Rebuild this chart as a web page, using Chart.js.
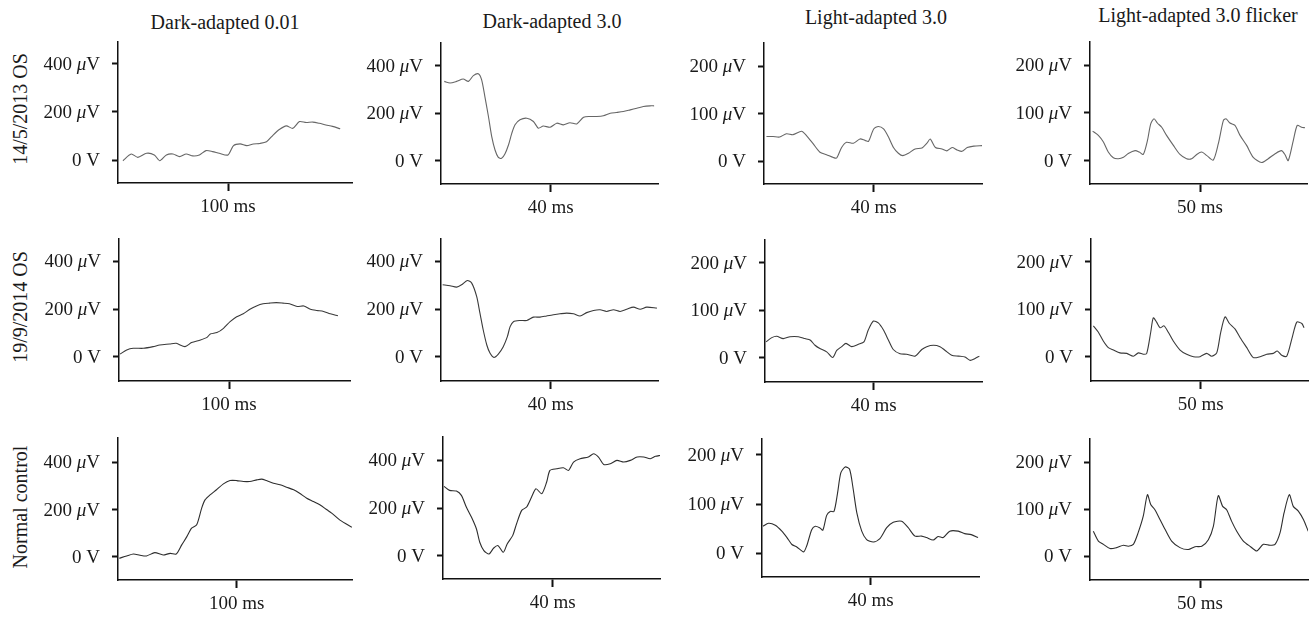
<!DOCTYPE html>
<html lang="en">
<head>
<meta charset="UTF-8">
<title>ERG recordings</title>
<script src="https://cdn.jsdelivr.net/npm/chart.js"></script>
<style>
    body {
        margin: 0;
        background: #fff;
        font-family: "Liberation Serif", "DejaVu Serif", serif;
        color: #1a1a1a;
    }
    #page {
        position: relative;
        width: 1310px;
        height: 617px;
        overflow: hidden;
    }
    #page canvas {
        position: absolute;
    }
    .title {
        position: absolute;
        font-size: 20px;
        white-space: nowrap;
        transform: translate(-50%, -50%);
    }
    .rowlab {
        position: absolute;
        font-size: 20px;
        white-space: nowrap;
        transform: translate(-50%, -50%) rotate(-90deg);
    }
</style>
</head>
<body>
<div id="page"></div>
<script>
// labels
const columnTitles = ['Dark-adapted 0.01', 'Dark-adapted 3.0', 'Light-adapted 3.0', 'Light-adapted 3.0 flicker'];
const rowLabels = ['14/5/2013 OS', '19/9/2014 OS', 'Normal control'];
const tickTimes = [100, 40, 40, 50];     // ms, single x tick per column
const fullScale = [400, 400, 200, 200];  // µV, top y tick per column

// traces: time (ms) / amplitude (µV)
// row 1 - 14/5/2013 OS
const r1c1T = [4.5, 12, 18, 26, 33, 38, 44, 50, 56, 62, 68, 74, 80, 86, 92, 100, 105, 111, 117, 123, 129, 135, 141, 147, 153, 159, 165, 171, 177, 183, 189, 195, 202];
const r1c1V = [-3, 25, 11, 28, 21, -3, 21, 25, 14, 25, 17, 21, 39, 35, 28, 21, 60, 67, 60, 67, 69, 76, 104, 128, 142, 132, 160, 156, 158, 153, 146, 140, 130];
const r1c2T = [1.2, 3.3, 5.7, 8.1, 10, 11.8, 13.6, 14.8, 16, 17.3, 18.5, 19.7, 20.9, 22.1, 23.3, 24.6, 25.8, 27, 28.8, 31.3, 33.7, 35.5, 37.3, 39.8, 42.2, 44.6, 47, 49.5, 52, 54.4, 56.8, 59.2, 61.7, 64, 66.5, 69, 71.4, 73.8, 76.2, 77.7];
const r1c2V = [334, 327, 334, 344, 334, 358, 366, 341, 270, 186, 101, 45, 14, 10, 28, 66, 115, 151, 172, 179, 165, 137, 146, 141, 158, 151, 160, 155, 183, 186, 186, 189, 200, 203, 207, 214, 221, 228, 231, 231];
const r1c3T = [0.9, 3.3, 5.7, 8.2, 10.6, 13.7, 15.5, 17.9, 20.4, 22.8, 25.3, 26.5, 28.3, 30.1, 32.6, 35, 36.8, 38.1, 40, 41.7, 43.6, 45.4, 47.2, 49, 50.6, 52.7, 55.1, 57.6, 59.4, 60.6, 62.5, 64.9, 66.7, 68.6, 70.4, 72.2, 74.1, 76.5, 79.5];
const r1c3V = [52, 52, 51, 58, 56, 63, 54, 37, 19, 14, 8, 7, 29, 40, 38, 47, 44, 42, 68, 73, 68, 51, 29, 17, 12, 17, 26, 28, 38, 47, 29, 26, 22, 29, 24, 21, 29, 32, 33];
const r1c4T = [1.2, 3.8, 6.1, 8.3, 10.6, 12.9, 15.2, 17.4, 20.5, 22.4, 24.2, 26.1, 27.6, 29.1, 30.6, 32.6, 34.8, 37.9, 40.9, 43.9, 46.2, 48.5, 50.8, 53, 56, 58.3, 60.6, 61.8, 63.6, 65.9, 68.2, 71.2, 74.2, 78, 81, 84, 87, 88.6, 90.1, 92.4, 94.2, 96.2, 97.7];
const r1c4V = [62, 53, 39, 18, 6, 4, 7, 15, 21, 18, 13, 42, 77, 88, 79, 70, 53, 32, 13, 4, 4, 13, 18, 11, 1, 35, 84, 88, 79, 74, 53, 32, 7, -4, 4, 14, 21, 13, 0, 42, 74, 70, 69];
// row 2 - 19/9/2014 OS
const r2c1T = [1, 7, 13, 22, 31, 37, 46, 52, 60, 66, 74, 80, 83, 89, 95, 101, 107, 113, 119, 125, 131, 137, 143, 149, 155, 162, 168, 174, 180, 186, 192, 199];
const r2c1V = [11, 28, 35, 35, 42, 49, 53, 56, 42, 59, 70, 81, 95, 101, 119, 147, 168, 180, 199, 213, 222, 225, 227, 225, 222, 211, 213, 199, 194, 190, 180, 172];
const r2c2T = [0.6, 3.3, 5.7, 7.5, 9.6, 11.2, 13, 14.2, 15.4, 16.7, 17.9, 19.3, 20.9, 22.7, 24.2, 25.2, 26.4, 28.8, 31.3, 33.7, 36.1, 38.5, 41, 43.4, 45.8, 48.3, 50.7, 53.1, 55.6, 58, 60.4, 62.9, 65.3, 67.7, 70.2, 72.6, 75, 78.7];
const r2c2V = [302, 298, 292, 302, 320, 309, 253, 183, 112, 49, 14, -3, 11, 42, 84, 126, 147, 152, 152, 166, 166, 171, 176, 180, 183, 180, 171, 185, 194, 197, 190, 197, 190, 199, 208, 199, 208, 204];
const r2c3T = [0.4, 2.5, 4.3, 6.7, 9.2, 12.3, 14.7, 16.6, 18.4, 20.2, 22.7, 24.9, 26.4, 28.2, 29.8, 31.9, 34.4, 36.4, 38, 39.9, 41.7, 43.6, 45.4, 47.2, 49.7, 52.1, 55.2, 57.7, 59.5, 62, 64.4, 66.3, 68.7, 71.2, 73.6, 75.5, 77.3, 78.9];
const r2c3V = [33, 42, 45, 40, 44, 44, 40, 37, 26, 19, 12, 0, 15, 23, 30, 23, 28, 33, 58, 77, 73, 58, 37, 17, 8, 7, 3, 17, 23, 26, 23, 15, 5, 3, 1, -6, -2, 3];
const r2c4T = [1.1, 3.3, 5.6, 7.9, 10.2, 13.2, 16.3, 19.3, 21.6, 23.9, 25.4, 27.2, 28.4, 29.9, 31.5, 33.3, 35.3, 37.5, 40.6, 43.6, 46.7, 49.7, 52.7, 55, 57.3, 59.1, 61.1, 63.1, 65.7, 68, 71, 74, 77.1, 80.1, 83.1, 84.9, 86.9, 89.2, 91.5, 93.8, 96.1, 97.1];
const r2c4V = [65, 52, 33, 19, 14, 8, 7, 1, 8, 5, 7, 51, 82, 73, 61, 65, 51, 33, 14, 5, 0, 0, 7, 1, 8, 51, 84, 70, 58, 40, 19, -2, 0, 5, 7, 12, 3, 1, 37, 73, 70, 61];
// row 3 - normal control
const r3c1T = [1, 7.3, 13, 18.5, 24, 31, 38, 44, 49, 53.7, 58, 62, 66.3, 70.5, 73.3, 77.5, 83, 88.8, 94.4, 100, 105.6, 111, 117, 121, 125, 131, 136.5, 142, 148, 153, 159, 164.6, 170, 176, 180, 187, 197];
const r3c1V = [-7, 3, 11, 6, 3, 17, 7, 14, 11, 50, 85, 121, 135, 206, 241, 262, 284, 309, 323, 323, 319, 319, 326, 329, 323, 312, 305, 295, 284, 269, 248, 234, 220, 199, 185, 155, 125];
const r3c2T = [0.4, 2.4, 4.9, 6.7, 8.5, 10.4, 12.2, 13.4, 14.9, 16.8, 18.5, 20.1, 22, 23.4, 25.4, 26.8, 28.7, 30.5, 32.3, 33.9, 36, 37.8, 39, 41.5, 43.9, 45.8, 47.6, 50, 53, 54.9, 56.7, 58.6, 61, 63.4, 65.9, 68.3, 70.8, 73.2, 75.6, 77.5, 79.3];
const r3c2V = [291, 274, 271, 253, 204, 161, 112, 56, 21, 7, 32, 42, 14, 49, 84, 133, 190, 204, 246, 281, 260, 309, 358, 365, 369, 358, 393, 407, 414, 428, 414, 383, 386, 400, 393, 400, 414, 414, 407, 417, 421];
const r3c3T = [0.4, 2.4, 4.9, 7.3, 9.2, 11, 12.8, 15.3, 16.5, 18.3, 19.6, 21.2, 22.4, 23.8, 25.1, 26.5, 27.8, 29, 30.6, 32.2, 33.4, 34.9, 36.7, 38.5, 41, 43.4, 45.9, 48.3, 51.4, 53.8, 56.3, 58.7, 60.5, 63, 64.8, 66.7, 69.1, 72.2, 74.6, 77, 79.5];
const r3c3V = [55, 61, 57, 45, 32, 18, 13, 3, 16, 48, 55, 52, 47, 77, 85, 85, 122, 163, 175, 171, 136, 82, 45, 28, 23, 30, 52, 63, 65, 52, 35, 35, 32, 27, 34, 32, 45, 45, 40, 38, 32];
const r3c4T = [1.5, 3.8, 6.1, 9.1, 12.1, 15.2, 17.4, 19.7, 21.9, 24.2, 26.1, 27.6, 29.5, 31.8, 34.1, 37.1, 40.9, 44.7, 47.7, 50.8, 53.8, 56.1, 58.3, 60.3, 62.1, 64.4, 66.7, 69.7, 73, 75.8, 78.8, 81.8, 84.1, 86.4, 88.2, 90.6, 92.4, 94.7, 97, 99.2];
const r3c4V = [53, 32, 25, 16, 18, 23, 21, 25, 50, 85, 131, 110, 99, 78, 57, 32, 18, 14, 20, 21, 35, 64, 129, 106, 99, 74, 53, 32, 20, 11, 25, 23, 25, 50, 92, 131, 106, 96, 78, 53];

const traces = [
    [r1c1T, r1c1V], [r1c2T, r1c2V], [r1c3T, r1c3V], [r1c4T, r1c4V],
    [r2c1T, r2c1V], [r2c2T, r2c2V], [r2c3T, r2c3V], [r2c4T, r2c4V],
    [r3c1T, r3c1V], [r3c2T, r3c2V], [r3c3T, r3c3V], [r3c4T, r3c4V]
];

// panel boxes in page pixels: left, right, top, zero line, full-scale tick, bottom, x tick
const boxes = [
    [118, 352, 42, 160, 64, 183, 228],
    [441, 658, 43, 160.7, 65.7, 184, 550.7],
    [764, 982, 42.7, 160.7, 65.7, 183.3, 873.7],
    [1090, 1307, 41.7, 160, 65, 183.3, 1200],
    [119, 350, 239.3, 356.7, 261.7, 381, 229],
    [441, 658, 239.3, 356.7, 261.7, 381, 550.7],
    [765, 982, 240, 357.3, 262.7, 381.7, 873.7],
    [1091, 1308, 239.3, 357.3, 262.3, 381.7, 1200.7],
    [118, 352, 438.3, 556.7, 462.7, 580, 236.7],
    [443, 660, 436.7, 555, 460, 578.3, 552.7],
    [762, 979, 439.3, 554, 455, 577.7, 870.7],
    [1090, 1308, 439.3, 556.7, 462.7, 580.7, 1200]
];
const lineColors = ['#666', '#3a3a3a', '#2e2e2e'];

const page = document.getElementById('page');
const PADL = 84, PADT = 8, PADR = 4, XH = 40;
const fontFamily = '"Liberation Serif", serif';
const font = { family: fontFamily, size: 19 };
const ink = '#1a1a1a';

// y labels: number upright, mu in italic, drawn next to each y tick
const unitLabels = {
    id: 'unitLabels',
    afterDraw(chart) {
        const y = chart.scales.y, ctx = chart.ctx;
        const xr = chart.chartArea.left - 18;
        ctx.save();
        ctx.fillStyle = ink;
        ctx.textBaseline = 'middle';
        ctx.textAlign = 'left';
        y.ticks.forEach(t => {
            const py = y.getPixelForValue(t.value);
            const parts = t.value === 0
                ? [['0 V', 'normal']]
                : [[t.value + ' ', 'normal'], ['\u03bc', 'italic'], ['V', 'normal']];
            let total = 0;
            parts.forEach(p => {
                ctx.font = p[1] + ' 19px ' + fontFamily;
                total += ctx.measureText(p[0]).width;
            });
            let x = xr - total;
            parts.forEach(p => {
                ctx.font = p[1] + ' 19px ' + fontFamily;
                ctx.fillText(p[0], x, py + 1);
                x += ctx.measureText(p[0]).width;
            });
        });
        ctx.restore();
    }
};

// column titles and row labels
const titlePos = [[225, 22], [552, 21], [876, 17], [1198, 15]];
columnTitles.forEach((t, i) => {
    const d = document.createElement('div');
    d.className = 'title';
    d.textContent = t;
    d.style.left = titlePos[i][0] + 'px';
    d.style.top = titlePos[i][1] + 'px';
    page.appendChild(d);
});
const rowPos = [[20, 109], [20, 307], [20, 507]];
rowLabels.forEach((t, i) => {
    const d = document.createElement('div');
    d.className = 'rowlab';
    d.textContent = t;
    d.style.left = rowPos[i][0] + 'px';
    d.style.top = rowPos[i][1] + 'px';
    page.appendChild(d);
});

traces.forEach((tr, p) => {
    const col = p % 4, row = Math.floor(p / 4);
    const [left, right, top, zero, full, bottom, tickPx] = boxes[p];
    const perPx = fullScale[col] / (zero - full);
    const yMax = (zero - top) * perPx;
    const yMin = -(bottom - zero) * perPx;
    const xMax = tickTimes[col] * (right - left) / (tickPx - left);

    const cv = document.createElement('canvas');
    const w = Math.round(right - left + PADL + PADR);
    const h = Math.round(bottom - top + PADT + XH);
    cv.width = w; cv.height = h;
    cv.style.left = Math.round(left - PADL) + 'px';
    cv.style.top = Math.round(top - PADT) + 'px';
    page.appendChild(cv);

    new Chart(cv, {
        type: 'line',
        data: {
            datasets: [{
                data: tr[0].map((t, i) => ({ x: t, y: tr[1][i] })),
                borderColor: lineColors[row],
                borderWidth: 1.1,
                pointRadius: 0,
                tension: 0.25,
                fill: false
            }]
        },
        options: {
            responsive: false,
            animation: false,
            layout: { padding: { top: PADT, right: PADR, left: 0, bottom: 0 } },
            plugins: { legend: { display: false }, tooltip: { enabled: false } },
            scales: {
                x: {
                    type: 'linear',
                    min: 0,
                    max: xMax,
                    afterBuildTicks: s => { s.ticks = [{ value: tickTimes[col] }]; },
                    afterFit: s => { s.height = XH; s.paddingLeft = 0; s.paddingRight = 0; },
                    grid: { drawOnChartArea: false, tickLength: 8, tickWidth: 2, tickColor: '#111' },
                    border: { color: '#111', width: 1.5 },
                    ticks: { font, color: ink, padding: 5, maxRotation: 0, autoSkip: false,
                             callback: v => v + ' ms' }
                },
                y: {
                    min: yMin,
                    max: yMax,
                    afterBuildTicks: s => {
                        s.ticks = [0, fullScale[col] / 2, fullScale[col]].map(v => ({ value: v }));
                    },
                    afterFit: s => { s.width = PADL; s.paddingTop = 0; s.paddingBottom = 0; },
                    grid: { drawOnChartArea: false, tickLength: 6, tickWidth: 2, tickColor: '#111' },
                    border: { color: '#111', width: 1.5 },
                    ticks: { display: false }
                }
            }
        },
        plugins: [unitLabels]
    });
});
</script>
</body>
</html>
